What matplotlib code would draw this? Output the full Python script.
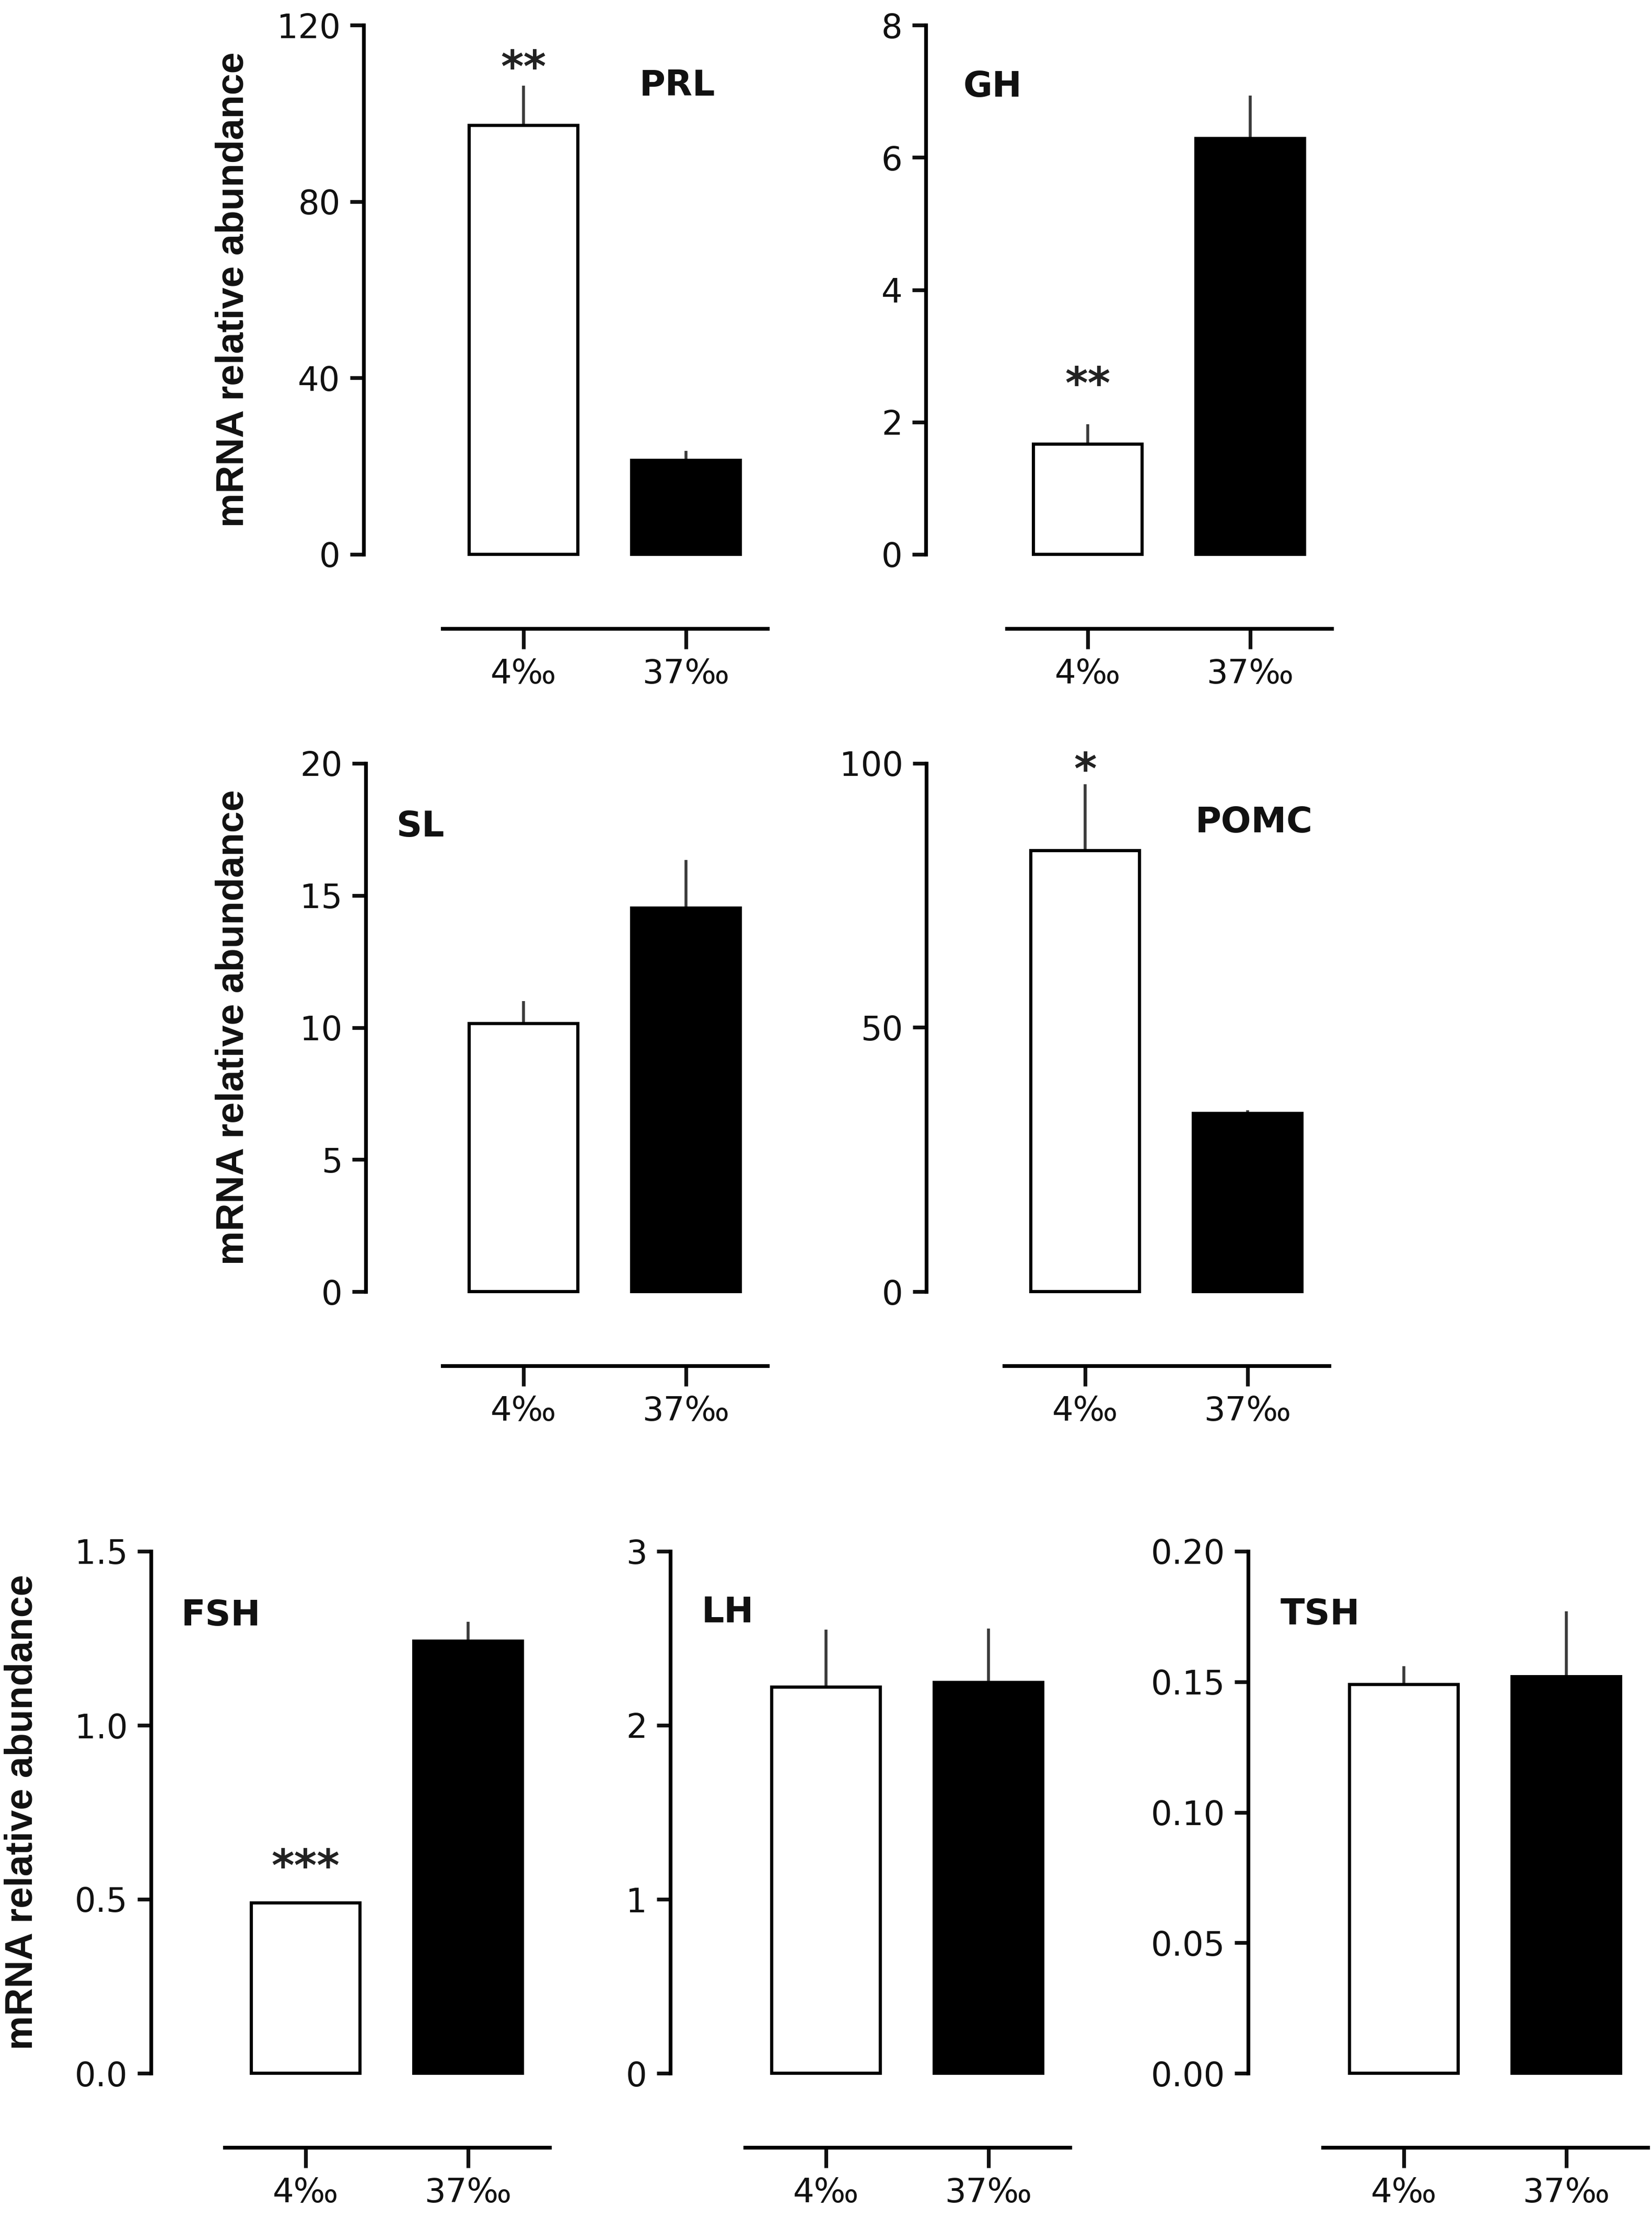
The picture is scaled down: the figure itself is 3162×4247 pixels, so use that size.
import matplotlib
matplotlib.use("Agg")
import matplotlib.pyplot as plt
from matplotlib.ticker import FixedLocator

# ---------------- data ----------------
genes = ["PRL", "GH", "SL", "POMC", "FSH", "LH", "TSH"]
groups = ["4\u2030", "37\u2030"]
mean_4 = [97.2, 1.67, 10.14, 83.5, 0.49, 2.22, 0.149]
sem_4 = [9.0, 0.30, 0.86, 12.5, 0.0, 0.33, 0.007]
mean_37 = [21.3, 6.29, 14.52, 33.7, 1.242, 2.245, 0.152]
sem_37 = [2.1, 0.64, 1.83, 0.6, 0.055, 0.31, 0.025]
y_max = [120, 8, 20, 100, 1.5, 3, 0.20]
y_step = [40, 2, 5, 50, 0.5, 1, 0.05]
y_fmt = ["{:.0f}", "{:.0f}", "{:.0f}", "{:.0f}", "{:.1f}", "{:.0f}", "{:.2f}"]
signif = ["**", "**", "", "*", "***", "", ""]
signif_y = [110, 2.55, None, 98.5, 0.59, None, None]
ylabel = "mRNA relative abundance"

# ---------------- layout (pixels of the 3162x4247 canvas) ----------------
W, H = 3162, 4247
DPI = 100
UNIT = 311          # pixels between bar centres
# y-axis x, top px, zero px, first bar centre px
panel_px = {
    "PRL":  (696, 48, 1061, 1002),
    "GH":   (1772, 48, 1061, 2082),
    "SL":   (700, 1461, 2472, 1002),
    "POMC": (1773, 1461, 2472, 2077),
    "FSH":  (289, 2969, 3968, 585),
    "LH":   (1283, 2969, 3968, 1581),
    "TSH":  (2389, 2969, 3968, 2687),
}
title_px = {
    "PRL": (1296, 164), "GH": (1900, 166), "SL": (804, 1582),
    "POMC": (2400, 1574), "FSH": (423, 3092), "LH": (1393, 3086),
    "TSH": (2527, 3090),
}
ylabel_panels = {"PRL": 446, "SL": 446, "FSH": 42}

TICK_FONT = ["DejaVu Sans"]
LABEL_FONT = ["Liberation Sans", "DejaVu Sans"]
INK = "#111111"
AXLW = 5.2

fig = plt.figure(figsize=(W / DPI, H / DPI), dpi=DPI)
fig.patch.set_facecolor("white")

XR = 1.6
for i, g in enumerate(genes):
    yax, top, zero, c1 = panel_px[g]
    xa = -(c1 - yax) / UNIT
    left = yax / W
    width = (XR - xa) * UNIT / W
    bottom = 1 - zero / H
    height = (zero - top) / H
    ax = fig.add_axes([left, bottom, width, height])
    ax.set_xlim(xa, XR)
    ax.set_ylim(0, y_max[i])
    ax.patch.set_alpha(0)

    vals = [mean_4[i], mean_37[i]]
    errs = [sem_4[i], sem_37[i]]
    xs = [0, 1]
    ax.errorbar(xs, vals, yerr=[[0, 0], errs], fmt="none", ecolor="#3a3a3a",
                elinewidth=4.0, capsize=0, zorder=1, clip_on=False)
    ax.bar(xs, vals, width=0.67, color=["white", "black"], edgecolor="black",
           linewidth=4.4, zorder=2, clip_on=False)

    # spines
    for s in ("top", "right"):
        ax.spines[s].set_visible(False)
    ax.spines["left"].set_linewidth(AXLW)
    ax.spines["bottom"].set_linewidth(AXLW)
    ax.spines["bottom"].set_position(("outward", 142 * 72 / DPI))
    ax.spines["bottom"].set_bounds(-0.5, 1.5)

    # y ticks
    n = int(round(y_max[i] / y_step[i]))
    yt = [k * y_step[i] for k in range(n + 1)]
    ax.yaxis.set_major_locator(FixedLocator(yt))
    ax.set_yticklabels([y_fmt[i].format(v) for v in yt])
    ax.tick_params(axis="y", length=19, width=AXLW, pad=13, labelsize=46,
                   colors=INK)
    # x ticks
    ax.set_xticks(xs)
    ax.set_xticklabels(groups)
    ax.tick_params(axis="x", length=28, width=AXLW, pad=12, labelsize=46,
                   colors=INK)
    for lab in ax.get_xticklabels() + ax.get_yticklabels():
        lab.set_family(TICK_FONT)

    # significance stars
    if signif[i]:
        ax.text(0, signif_y[i], signif[i], ha="center", va="center",
                fontsize=60, fontweight="bold", color="#222222",
                family=TICK_FONT)

    # gene title
    tx, ty = title_px[g]
    fig.text(tx / W, 1 - ty / H, g, ha="center", va="center", fontsize=49,
             fontweight="bold", color=INK, family=TICK_FONT)

    # y label
    if g in ylabel_panels:
        fig.text(ylabel_panels[g] / W, 1 - (top + zero) / 2 / H, ylabel,
                 rotation=90, ha="center", va="center", fontsize=53,
                 fontweight="bold", color=INK, family=LABEL_FONT)

fig.savefig("out.png", dpi=DPI, facecolor="white")
